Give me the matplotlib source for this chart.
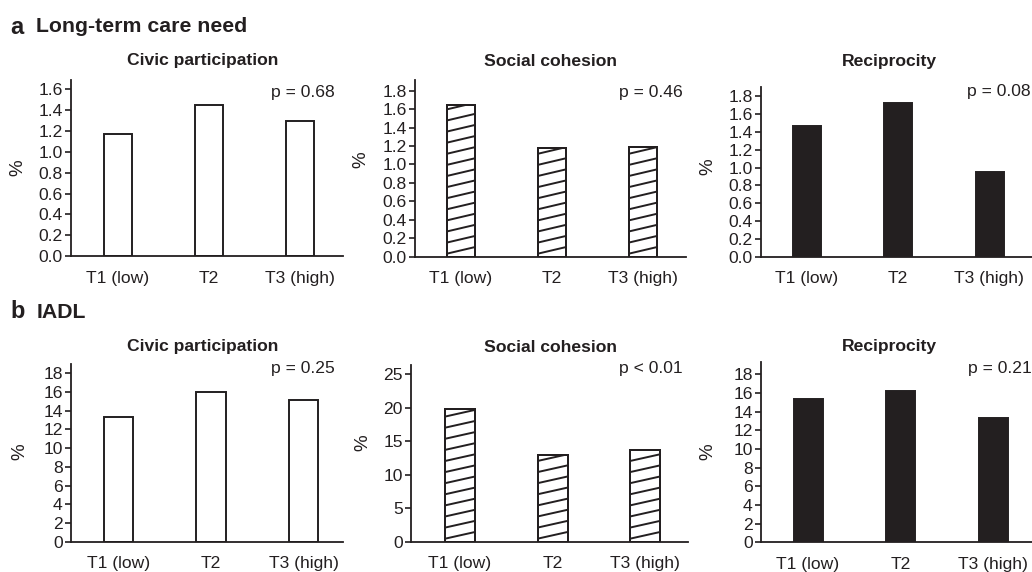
import matplotlib
matplotlib.use("Agg")
import matplotlib.pyplot as plt
import numpy as np

plt.rcParams['font.family'] = ['Liberation Sans', 'DejaVu Sans']

# ---- data ----
categories = ["T1 (low)", "T2", "T3 (high)"]
domains = ["Civic participation", "Social cohesion", "Reciprocity"]

ltc_civic = [1.17, 1.45, 1.30]
ltc_social = [1.64, 1.18, 1.19]
ltc_recip = [1.47, 1.73, 0.955]

iadl_civic = [13.3, 16.05, 15.1]
iadl_social = [19.8, 13.0, 13.65]
iadl_recip = [15.35, 16.2, 13.35]

ltc_pvals = ["p = 0.68", "p = 0.46", "p = 0.08"]
iadl_pvals = ["p = 0.25", "p < 0.01", "p = 0.21"]

section_letters = ["a", "b"]
section_titles = ["Long-term care need", "IADL"]

ltc_yticks = [np.round(np.arange(0, 1.61, 0.2), 1),
              np.round(np.arange(0, 1.81, 0.2), 1),
              np.round(np.arange(0, 1.81, 0.2), 1)]
iadl_yticks = [np.arange(0, 19, 2), np.arange(0, 26, 5), np.arange(0, 19, 2)]

# ---- layout (pixels) ----
W, H = 1032, 572
DARK = '#231f20'
FS = 12.6
fig = plt.figure(figsize=(W / 100, H / 100), dpi=100)

def fx(px):
    return px / W

def fy(py):
    return 1 - py / H

# (left, right, top, bottom, c0, c2, barwidth_px, ymax)
panels = [
    (71, 343, 80, 256, 118, 300, 28.7, 1.69),
    (415, 686, 80, 256.7, 461, 643, 28.5, 1.915),
    (761, 1033, 86.7, 256.7, 807, 989.5, 28, 1.91),
    (71, 343, 364.3, 541.7, 118.3, 303.7, 29.5, 18.96),
    (411, 688, 365, 541.7, 460, 645, 30, 26.4),
    (761, 1037, 361.7, 542.3, 808, 993.3, 29, 19.35),
]
values = [ltc_civic, ltc_social, ltc_recip, iadl_civic, iadl_social, iadl_recip]
yticks = ltc_yticks + iadl_yticks
pvals = ltc_pvals + iadl_pvals
styles = ['open', 'hatch', 'solid'] * 2
title_pos = [(203, 61), (550.5, 61), (889, 62),
             (203, 347), (551, 347), (889, 347)]
p_pos = [(335, 92.7), (683, 92.7), (1030.7, 91.7),
         (335, 368.3), (683, 368.3), (1031.7, 368.3)]
pct_pos = [(18, 168), (361, 160), (708, 167),
           (20, 452), (363, 443), (708, 452)]

for i, (l, r, t, b, c0, c2, bw, ymax) in enumerate(panels):
    ax = fig.add_axes([fx(l), fy(b), fx(r - l), (b - t) / H])
    sp = (c2 - c0) / 2.0
    xl = -(c0 - l) / sp
    xr = 2 + (r - c2) / sp
    x = np.arange(len(categories))
    st = styles[i]
    fc = DARK if st == 'solid' else 'white'
    bars = ax.bar(x, values[i], width=bw / sp, color=fc, edgecolor=DARK,
                  linewidth=1.4, zorder=2)
    ax.set_xlim(xl, xr)
    ax.set_ylim(0, ymax)
    ax.set_yticks(yticks[i])
    if ymax < 5:
        ax.set_yticklabels([f"{v:.1f}" for v in yticks[i]])
    else:
        ax.set_yticklabels([f"{int(v)}" for v in yticks[i]])
    ax.set_xticks(x)
    ax.set_xticklabels(categories)
    ax.tick_params(axis='x', length=0, pad=10.5, labelsize=FS, colors=DARK)
    ax.tick_params(axis='y', length=4, width=1.2, pad=2, labelsize=FS,
                   colors=DARK)
    for s in ['top', 'right']:
        ax.spines[s].set_visible(False)
    for s in ['left', 'bottom']:
        ax.spines[s].set_linewidth(1.3)
        ax.spines[s].set_color(DARK)

    if st == 'hatch':
        ax_h_px = b - t
        ysc = ymax / ax_h_px
        spacing = 11.1 * ysc
        rise = 6.7 * ysc
        for patch in bars:
            x0 = patch.get_x()
            w = patch.get_width()
            h = patch.get_height()
            k = -2
            while k * spacing < h + spacing:
                y0 = k * spacing + 3 * ysc
                ln, = ax.plot([x0, x0 + w], [y0, y0 + rise], color=DARK,
                              linewidth=1.4, zorder=2.5)
                ln.set_clip_path(patch)
                k += 1
            ax.bar(patch.get_x() + w / 2, h, width=w, color='none',
                   edgecolor=DARK, linewidth=1.4, zorder=3)

    tx, ty = title_pos[i]
    fig.text(fx(tx), fy(ty), domains[i % 3], ha='center', va='center',
             fontsize=FS, fontweight='bold', color=DARK)
    px_, py_ = p_pos[i]
    fig.text(fx(px_), fy(py_), pvals[i], ha='right', va='center',
             fontsize=FS, color=DARK)
    qx, qy = pct_pos[i]
    fig.text(fx(qx), fy(qy), "%", ha='center', va='center', rotation=90,
             fontsize=13.5, color=DARK)

# section headers
fig.text(fx(10), fy(27), section_letters[0], ha='left', va='center',
         fontsize=17, fontweight='bold', color=DARK)
fig.text(fx(36.5), fy(27), section_titles[0], ha='left', va='center',
         fontsize=15.3, fontweight='bold', color=DARK)
fig.text(fx(10), fy(312), section_letters[1], ha='left', va='center',
         fontsize=17, fontweight='bold', color=DARK)
fig.text(fx(36.5), fy(312), section_titles[1], ha='left', va='center',
         fontsize=15.3, fontweight='bold', color=DARK)

fig.savefig("out.png", dpi=100, facecolor='white')
